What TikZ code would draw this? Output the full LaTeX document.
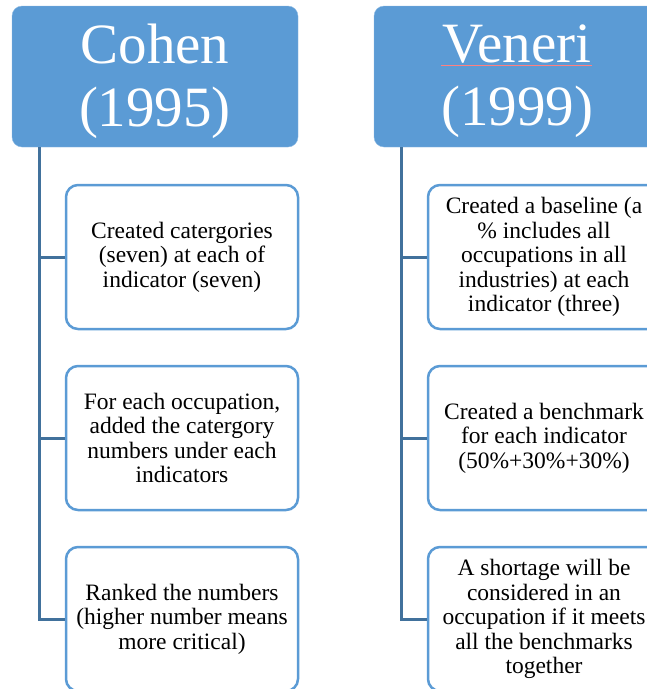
\documentclass[tikz,border=0pt]{standalone}
\usepackage{fontspec}
\setmainfont{Liberation Serif}
\definecolor{hdrblue}{RGB}{91,155,213}
\definecolor{trunkblue}{RGB}{65,113,156}
\tikzset{
  header/.style={rectangle, rounded corners=10pt, fill=hdrblue, draw=hdrblue!70!white,
    minimum width=286pt, minimum height=141pt, text=white, align=center,
    text depth=3pt, font=\fontsize{57}{63}\selectfont},
  stepbox/.style={rectangle, rounded corners=12pt, draw=hdrblue, line width=2.5pt, fill=white,
    minimum width=232pt, minimum height=144pt, align=center,
    font=\fontsize{23.5}{24.5}\selectfont},
  trunk/.style={draw=trunkblue, line width=3pt}
}
\begin{document}
\begin{tikzpicture}[x=1pt,y=-1pt]
  \useasboundingbox (0,0) rectangle (647,689);
  \clip (0,0) rectangle (647,689);
  % headers
  \node[header] (cohen) at (155,76.5) {Cohen\\(1995)};
  \node[header] (veneri) at (517,76.5) {Veneri\\(1999)};
  \draw[red!50, line width=0.4pt] (441,65) -- (592,65);
  % Cohen steps
  \node[stepbox] (c1) at (182,257) {Created catergories\\(seven) at each of\\indicator (seven)};
  \node[stepbox] (c2) at (182,438) {For each occupation,\\added the catergory\\numbers under each\\indicators};
  \node[stepbox] (c3) at (182,619) {Ranked the numbers\\(higher number means\\more critical)};
  % Veneri steps
  \node[stepbox] (v1) at (544,257) {Created a baseline (a\\\% includes all\\occupations in all\\industries) at each\\indicator (three)};
  \node[stepbox] (v2) at (544,438) {Created a benchmark\\for each indicator\\(50\%+30\%+30\%)};
  \node[stepbox] (v3) at (544,619) {A shortage will be\\considered in an\\occupation if it meets\\all the benchmarks\\together};
  % trunks
  \coordinate (ctop) at (39,147);
  \coordinate (vtop) at (401,147);
  \draw[trunk] (ctop) |- (c3.west);
  \draw[trunk] (ctop |- c1.west) -- (c1.west);
  \draw[trunk] (ctop |- c2.west) -- (c2.west);
  \draw[trunk] (vtop) |- (v3.west);
  \draw[trunk] (vtop |- v1.west) -- (v1.west);
  \draw[trunk] (vtop |- v2.west) -- (v2.west);
\end{tikzpicture}
\end{document}
